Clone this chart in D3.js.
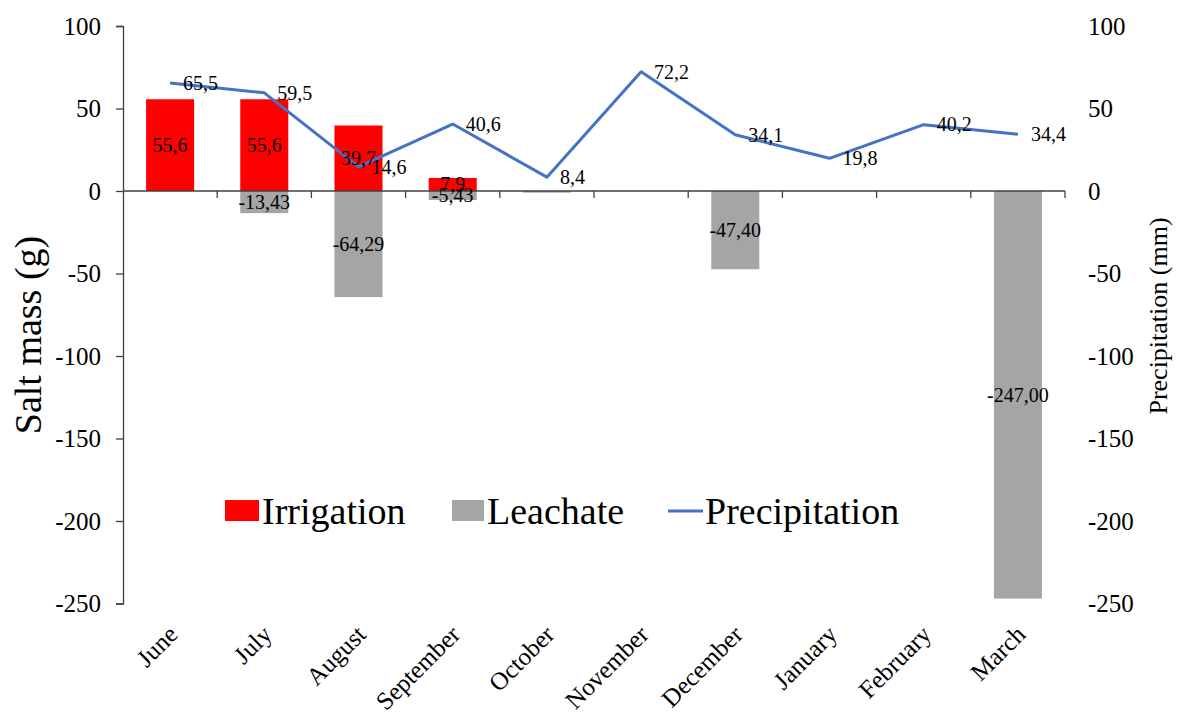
<!DOCTYPE html>
<html>
<head>
<meta charset="utf-8">
<script src="https://cdn.jsdelivr.net/npm/d3@7"></script>
<style>
  html, body { margin: 0; padding: 0; background: #fff; }
  svg { display: block; }
  svg text { font-family: "Liberation Serif", "DejaVu Serif", "Times New Roman", Times, serif !important; fill: #000; }
</style>
</head>
<body>
<svg id="chart" width="1183" height="716" font-family="Liberation Serif, serif"></svg>
<script>
// ---- data ----
const months = ["June", "July", "August", "September", "October", "November", "December", "January", "February", "March"];
const irrigation = [55.6, 55.6, 39.7, 7.9, 0, 0, 0, 0, 0, 0];
const leachate = [0, -13.43, -64.29, -5.43, -1.0, 0, -47.40, 0, 0, -247.00];
const precipitation = [65.5, 59.5, 14.6, 40.6, 8.4, 72.2, 34.1, 19.8, 40.2, 34.4];
const irrigationLabels = ["55,6", "55,6", "39,7", "7,9", "", "", "", "", "", ""];
const leachateLabels = ["", "-13,43", "-64,29", "-5,43", "", "", "-47,40", "", "", "-247,00"];
const precipitationLabels = ["65,5", "59,5", "14,6", "40,6", "8,4", "72,2", "34,1", "19,8", "40,2", "34,4"];
const yTicks = [100, 50, 0, -50, -100, -150, -200, -250];
const legendItems = ["Irrigation", "Leachate", "Precipitation"];

// ---- layout ----
const svg = d3.select("#chart");
const plot = { left: 123, right: 1065, top: 26, bottom: 603.5 };
const colors = { irr: "#FF0000", lea: "#A5A5A5", pre: "#4472C4", axis: "#404040" };
const FONT = "'Liberation Serif', 'DejaVu Serif', 'Times New Roman', serif";

const x = d3.scaleBand().domain(months).range([plot.left, plot.right]).paddingInner(0.49).paddingOuter(0.245);
const xb = d3.scaleBand().domain(months).range([plot.left, plot.right]);
const y = d3.scaleLinear().domain([-250, 100]).range([plot.bottom, plot.top]);
const y2 = d3.scaleLinear().domain([-250, 100]).range([plot.bottom, plot.top]);
const fmt = d => String(d);

// left axis
const leftAxis = d3.axisLeft(y).tickValues(yTicks).tickSize(7).tickPadding(15).tickFormat(fmt);
const gL = svg.append("g").attr("transform", `translate(${plot.left},0)`).call(leftAxis)
  .attr("font-family", FONT);
gL.select(".domain").attr("stroke", colors.axis).attr("stroke-width", 1.3);
gL.selectAll(".tick line").attr("stroke", colors.axis).attr("stroke-width", 1.3);
gL.selectAll(".tick text").style("font-size", "25px").attr("fill", "#000");

// right axis (labels only)
const rightAxis = d3.axisRight(y2).tickValues(yTicks).tickSize(0).tickPadding(23).tickFormat(fmt);
const gR = svg.append("g").attr("transform", `translate(${plot.right},0)`).call(rightAxis)
  .attr("font-family", FONT);
gR.select(".domain").remove();
gR.selectAll(".tick text").style("font-size", "25px").attr("fill", "#000");

// bars
svg.append("g").selectAll("rect.irr").data(months).join("rect")
  .attr("x", d => x(d)).attr("width", x.bandwidth())
  .attr("y", (d, i) => y(Math.max(0, irrigation[i])))
  .attr("height", (d, i) => Math.abs(y(irrigation[i]) - y(0)))
  .attr("fill", colors.irr);
svg.append("g").selectAll("rect.lea").data(months).join("rect")
  .attr("x", d => x(d)).attr("width", x.bandwidth())
  .attr("y", (d, i) => y(Math.max(0, leachate[i])))
  .attr("height", (d, i) => Math.abs(y(leachate[i]) - y(0)))
  .attr("fill", colors.lea);

// category axis at zero
const xAxis = d3.axisBottom(xb).tickSize(7).tickFormat("");
const gX = svg.append("g").attr("transform", `translate(0,${y(0)})`).call(xAxis);
gX.select(".domain").attr("stroke", colors.axis).attr("stroke-width", 1.3).attr("d", `M${plot.left},0H${plot.right}`);
gX.selectAll(".tick").remove();
const bounds = months.map(m => xb(m)).slice(1).concat([plot.right]);
gX.selectAll("line.b").data(bounds).join("line")
  .attr("x1", d => d).attr("x2", d => d).attr("y1", 0).attr("y2", 7)
  .attr("stroke", colors.axis).attr("stroke-width", 1.3);

// precipitation line
const cx = m => xb(m) + xb.bandwidth() / 2;
const line = d3.line().x((d, i) => cx(months[i])).y(d => y2(d));
svg.append("path").datum(precipitation).attr("d", line)
  .attr("fill", "none").attr("stroke", colors.pre).attr("stroke-width", 3).attr("stroke-linejoin", "round");

// data labels
const lab = svg.append("g").style("font-size", "20px").attr("font-family", FONT);
lab.selectAll("text.irr").data(months).join("text")
  .attr("x", d => cx(d)).attr("y", (d, i) => (y(irrigation[i]) + y(0)) / 2)
  .attr("dy", "0.34em").attr("text-anchor", "middle")
  .text((d, i) => irrigationLabels[i]);
lab.selectAll("text.lea").data(months).join("text")
  .attr("x", d => cx(d)).attr("y", (d, i) => (y(leachate[i]) + y(0)) / 2)
  .attr("dy", "0.34em").attr("text-anchor", "middle")
  .text((d, i) => leachateLabels[i]);
lab.selectAll("text.pre").data(months).join("text")
  .attr("x", d => cx(d) + 13).attr("y", (d, i) => y2(precipitation[i]))
  .attr("dy", "0.34em").attr("text-anchor", "start")
  .text((d, i) => precipitationLabels[i]);

// month labels
svg.append("g").attr("font-family", FONT).selectAll("text").data(months).join("text")
  .attr("transform", d => `translate(${cx(d) + 9},636) rotate(-45)`)
  .attr("text-anchor", "end")
  .style("font-size", "25px")
  .text(d => d);

// axis titles
svg.append("text").attr("transform", "translate(41,335) rotate(-90)").attr("font-family", FONT)
  .attr("text-anchor", "middle").style("font-size", "38px").text("Salt mass (g)");
svg.append("text").attr("transform", "translate(1167,316) rotate(-90)").attr("font-family", FONT)
  .attr("text-anchor", "middle").style("font-size", "26px").text("Precipitation (mm)");

// legend
const lg = svg.append("g").style("font-size", "38px").attr("font-family", FONT);
const legX = [225, 452, 668];
lg.append("rect").attr("x", legX[0]).attr("y", 500).attr("width", 34).attr("height", 21).attr("fill", colors.irr);
lg.append("rect").attr("x", legX[1]).attr("y", 500).attr("width", 32).attr("height", 21).attr("fill", colors.lea);
lg.append("line").attr("x1", legX[2]).attr("x2", legX[2] + 35).attr("y1", 511).attr("y2", 511)
  .attr("stroke", colors.pre).attr("stroke-width", 3);
const legTextX = [262, 487, 705];
lg.selectAll("text").data(legendItems).join("text")
  .attr("x", (d, i) => legTextX[i]).attr("y", 524)
  .text(d => d);
</script>
</body>
</html>
